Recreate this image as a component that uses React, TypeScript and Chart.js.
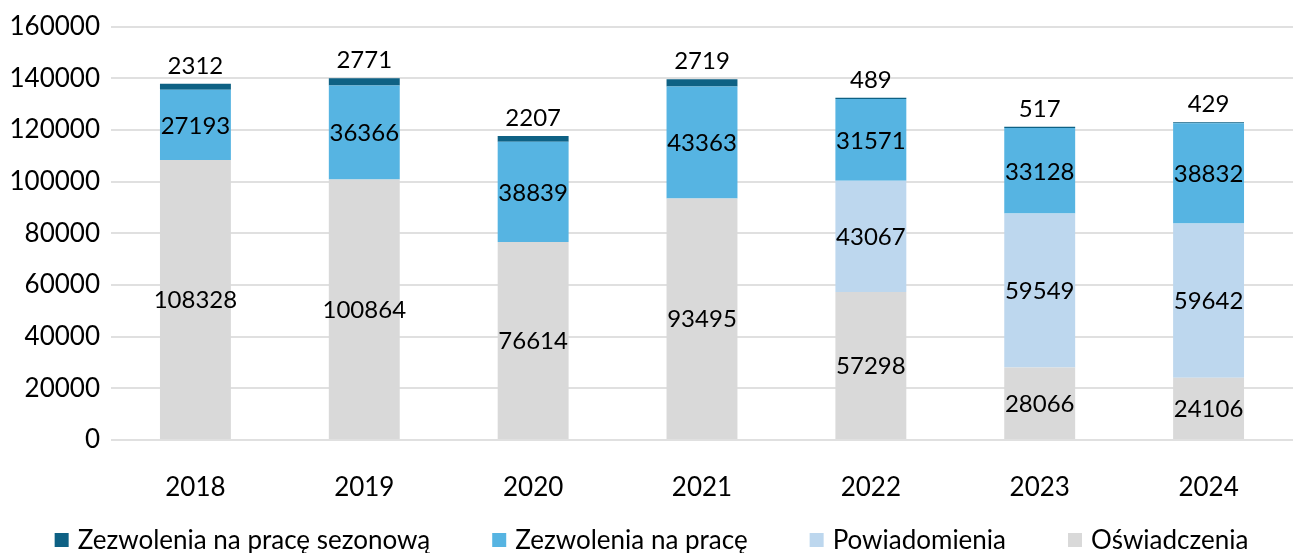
import React, { useEffect, useRef } from "react";
import { Chart, registerables } from "chart.js";

Chart.register(...registerables);

const categories = ["2018", "2019", "2020", "2021", "2022", "2023", "2024"];
const oswiadczenia = [108328, 100864, 76614, 93495, 57298, 28066, 24106];
const powiadomienia = [0, 0, 0, 0, 43067, 59549, 59642];
const zezwolenia = [27193, 36366, 38839, 43363, 31571, 33128, 38832];
const sezonowe = [2312, 2771, 2207, 2719, 489, 517, 429];
const yTicks = [0, 20000, 40000, 60000, 80000, 100000, 120000, 140000, 160000];

const FONT = "Lato, 'Noto Sans', sans-serif";

const labelsPlugin = {
  id: "segLabels",
  afterDatasetsDraw(chart: any) {
    const ctx = chart.ctx;
    ctx.save();
    ctx.font = `24px ${FONT}`;
    ctx.fillStyle = "#000000";
    ctx.textAlign = "center";
    const n = chart.data.datasets.length;
    chart.data.datasets.forEach((ds: any, di: number) => {
      const meta = chart.getDatasetMeta(di);
      meta.data.forEach((bar: any, i: number) => {
        const v = ds.data[i];
        if (!v) return;
        const text = String(v);
        if (di === n - 1) {
          ctx.textBaseline = "alphabetic";
          ctx.fillText(text, bar.x, bar.y - 10);
        } else {
          ctx.textBaseline = "middle";
          ctx.fillText(text, bar.x, (bar.y + bar.base) / 2 + 1);
        }
      });
    });
    ctx.restore();
  },
};

const legendPlugin = {
  id: "customLegend",
  afterDraw(chart: any) {
    const ctx = chart.ctx;
    ctx.save();
    ctx.font = `26px ${FONT}`;
    const box = 14;
    const gapText = 9;
    const gapItem = 62;
    const items = chart.data.datasets
      .map((ds: any) => ({ text: ds.label, color: ds.backgroundColor }))
      .reverse();
    const widths = items.map((it: any) => box + gapText + ctx.measureText(it.text).width);
    const total = widths.reduce((a: number, b: number) => a + b, 0) + gapItem * (items.length - 1);
    let x = chart.width / 2 - total / 2 + 5;
    const cy = 540;
    items.forEach((it: any, i: number) => {
      ctx.fillStyle = it.color;
      ctx.fillRect(x, cy - box / 2, box, box);
      ctx.fillStyle = "#000000";
      ctx.textAlign = "left";
      ctx.textBaseline = "middle";
      ctx.fillText(it.text, x + box + gapText, cy + 1);
      x += widths[i] + gapItem;
    });
    ctx.restore();
  },
};

export default function App() {
  const ref = useRef<HTMLCanvasElement | null>(null);
  useEffect(() => {
    if (!ref.current) return;
    const chart = new Chart(ref.current, {
      type: "bar",
      data: {
        labels: categories,
        datasets: [
          { label: "Oświadczenia", data: oswiadczenia, backgroundColor: "#D9D9D9" },
          { label: "Powiadomienia", data: powiadomienia, backgroundColor: "#BDD7EE" },
          { label: "Zezwolenia na pracę", data: zezwolenia, backgroundColor: "#56B4E2" },
          { label: "Zezwolenia na pracę sezonową", data: sezonowe, backgroundColor: "#0E6184" },
        ],
      },
      options: {
        responsive: false,
        animation: false,
        layout: { padding: { top: 25, right: 0, bottom: 0, left: 0 } },
        datasets: { bar: { categoryPercentage: 1, barPercentage: 0.42, borderWidth: 0 } },
        plugins: { legend: { display: false }, tooltip: { enabled: false } },
        scales: {
          x: {
            stacked: true,
            grid: { display: false, drawTicks: false },
            border: { display: false },
            ticks: { color: "#000000", font: { family: FONT, size: 26 }, padding: 32 },
            afterFit(scale: any) {
              scale.height = 113;
            },
          },
          y: {
            stacked: true,
            min: 0,
            max: 160000,
            afterBuildTicks(scale: any) {
              scale.ticks = yTicks.map((v) => ({ value: v }));
            },
            grid: { color: "#E0E0E0", lineWidth: 2, drawTicks: false },
            border: { display: false },
            ticks: {
              color: "#000000",
              font: { family: FONT, size: 26 },
              padding: 11,
              callback: (v: any) => String(v),
            },
            afterFit(scale: any) {
              scale.width = 111;
            },
          },
        },
      },
      plugins: [labelsPlugin, legendPlugin],
    });
    return () => chart.destroy();
  }, []);
  return (
    <div style={{ position: "fixed", left: 0, top: 0, width: 1293, height: 553, background: "#fff" }}>
      <canvas ref={ref} width={1293} height={553} />
    </div>
  );
}
